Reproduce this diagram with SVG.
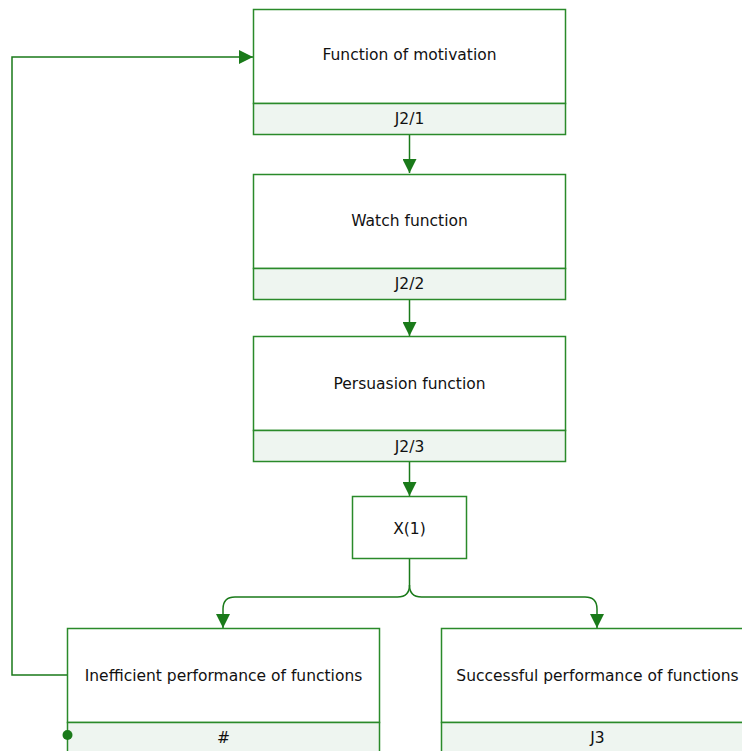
<svg xmlns="http://www.w3.org/2000/svg" width="742" height="751" viewBox="0 0 742 751">
<defs>
<marker id="arr" markerWidth="14" markerHeight="14" viewBox="0 0 14 14" refX="14" refY="7" orient="auto" markerUnits="userSpaceOnUse">
<path d="M0,0 L14,7 L0,14 z" fill="#1a7a1a"/>
</marker>
</defs>
<style>
.box{fill:#ffffff;stroke:#2a8a2a;stroke-width:1.5}
.foot{fill:#eef5f0;stroke:#2a8a2a;stroke-width:1.5}
.t{font-family:"DejaVu Sans",Verdana,sans-serif;font-size:15.5px;fill:#111;text-anchor:middle;dominant-baseline:central}
.c{fill:none;stroke:#1a7a1a;stroke-width:1.5}
</style>
<rect width="742" height="751" fill="#ffffff"/>
<g id="connectors">
<path class="c" d="M409.5,134 V173" marker-end="url(#arr)"/>
<path class="c" d="M409.5,299 V336" marker-end="url(#arr)"/>
<path class="c" d="M409.5,462 V496" marker-end="url(#arr)"/>
<path class="c" d="M409.5,559 V585 Q409.5,597 397.5,597 H235 Q223,597 223,609 V628" marker-end="url(#arr)"/>
<path class="c" d="M409.5,585 Q409.5,597 421.5,597 H585 Q597,597 597,609 V628" marker-end="url(#arr)"/>
<path class="c" d="M67,675 H12 V57 H253" marker-end="url(#arr)"/>
</g>
<g id="n1">
<rect class="box" x="253.5" y="9.5" width="312" height="94"/>
<rect class="foot" x="253.5" y="103.5" width="312" height="31"/>
<text class="t" x="409.5" y="55">Function of motivation</text>
<text class="t" x="409.5" y="119">J2/1</text>
</g>
<g id="n2">
<rect class="box" x="253.5" y="174.5" width="312" height="94"/>
<rect class="foot" x="253.5" y="268.5" width="312" height="31"/>
<text class="t" x="409.5" y="221">Watch function</text>
<text class="t" x="409.5" y="284">J2/2</text>
</g>
<g id="n3">
<rect class="box" x="253.5" y="336.5" width="312" height="94"/>
<rect class="foot" x="253.5" y="430.5" width="312" height="31"/>
<text class="t" x="409.5" y="384">Persuasion function</text>
<text class="t" x="409.5" y="447">J2/3</text>
</g>
<g id="n4">
<rect class="box" x="352.5" y="496.5" width="114" height="62"/>
<text class="t" x="409.5" y="529">X(1)</text>
</g>
<g id="n5">
<rect class="box" x="67.5" y="628.5" width="312" height="94"/>
<rect class="foot" x="67.5" y="722.5" width="312" height="40"/>
<text class="t" x="223.5" y="676">Inefficient performance of functions</text>
<text class="t" x="223.5" y="738">#</text>
<circle cx="67.5" cy="735" r="5" fill="#1a7a1a"/>
</g>
<g id="n6">
<rect class="box" x="441.5" y="628.5" width="312" height="94"/>
<rect class="foot" x="441.5" y="722.5" width="312" height="40"/>
<text class="t" x="597.5" y="676">Successful performance of functions</text>
<text class="t" x="597.5" y="738">J3</text>
</g>
</svg>
